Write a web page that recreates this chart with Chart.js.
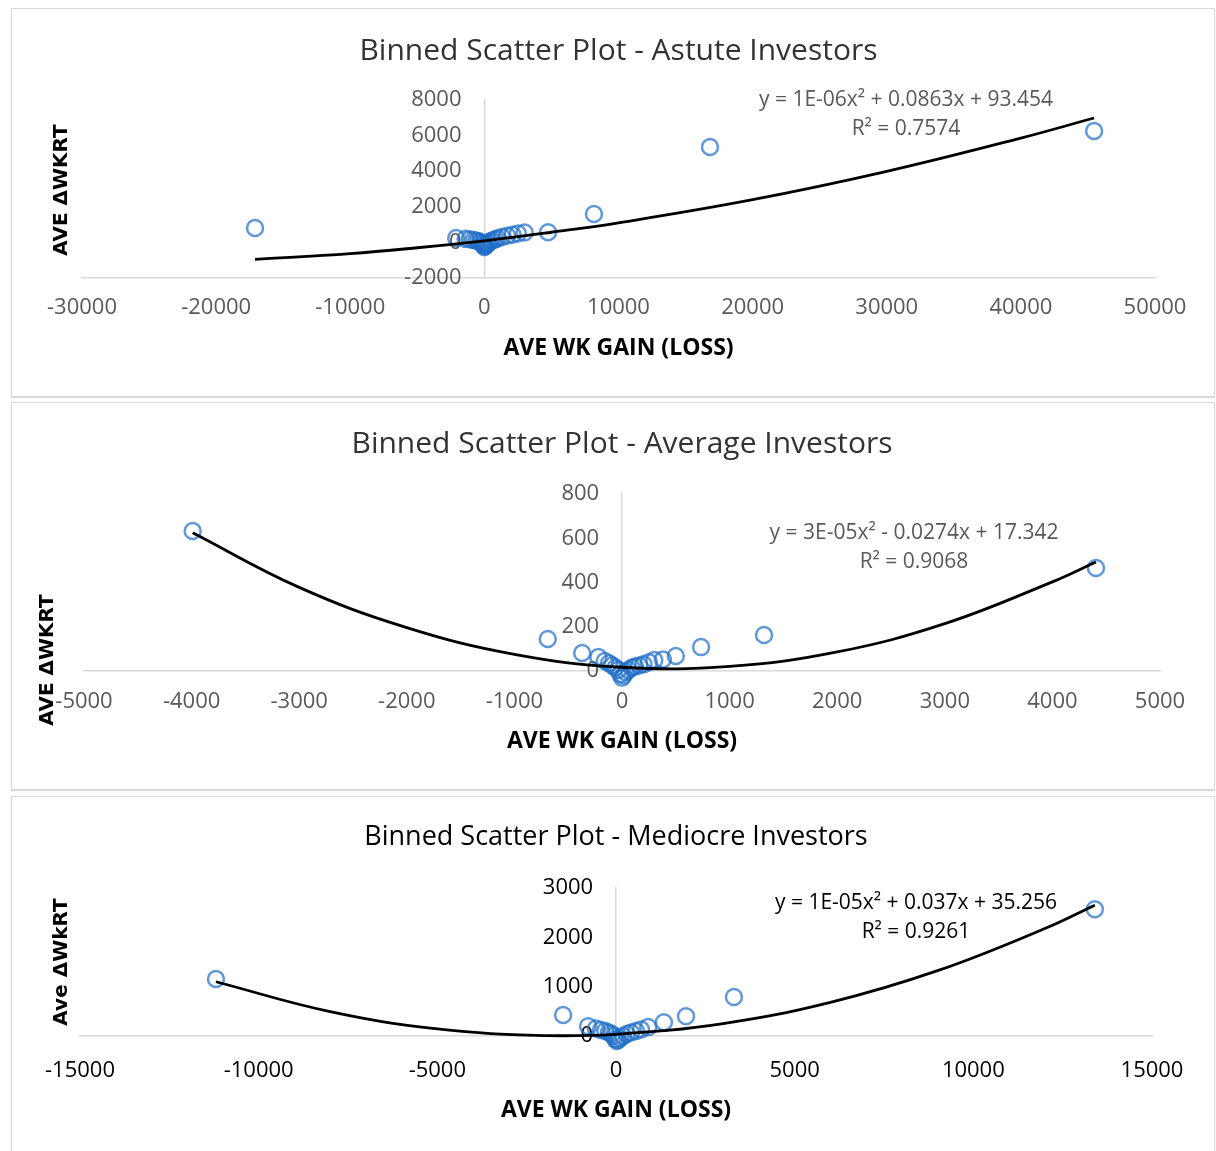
<!DOCTYPE html>
<html lang="en">
<head>
<meta charset="utf-8">
<title>Binned Scatter Plots</title>
<script src="https://cdn.jsdelivr.net/npm/chart.js"></script>
<style>
  body { margin: 0; background: #fff; }
  .box {
    position: absolute; left: 11px; width: 1204px; box-sizing: border-box;
    border: 1px solid #d9d9d9; box-shadow: 0 1px 1px rgba(0,0,0,0.15); background: #fff;
  }
  .box canvas { display: block; }
</style>
</head>
<body>
<div class="box" style="top:8px;height:389px"><canvas id="astute" width="1202" height="387"></canvas></div>
<div class="box" style="top:402px;height:388px"><canvas id="average" width="1202" height="386"></canvas></div>
<div class="box" style="top:796px;height:365px"><canvas id="mediocre" width="1202" height="363"></canvas></div>

<script>
// ---- Astute investors ----
const astuteX = [-17100, -2100, -1400, -1100, -800, -600, -450, -300, -200, -120, -50, 0, 60, 130, 220, 330, 450, 600, 800, 1000, 1300, 1700, 2100, 2500, 3000, 4750, 8170, 16820, 45460];
const astuteY = [810, 250, 200, 170, 140, 100, 60, 20, -30, -100, -180, -260, -220, -150, -80, 0, 60, 110, 170, 230, 300, 370, 430, 500, 560, 570, 1600, 5360, 6260];
const astuteFitX = [-17100, -10000, -5000, 0, 5000, 10000, 20000, 30000, 40000, 45460];
const astuteFitY = [-950, -630, -300, 90, 570, 1100, 2400, 3990, 5860, 6990];
const astuteXTicks = [-30000, 50000, 10000];
const astuteYTicks = [-2000, 8000, 2000];

// ---- Average investors ----
const averageX = [-3990, -690, -370, -220, -160, -120, -90, -60, -35, -15, 0, 15, 35, 60, 90, 120, 160, 200, 250, 300, 380, 500, 735, 1320, 4405];
const averageY = [633, 145, 81, 63, 45, 35, 25, 15, 5, -15, -30, -20, -5, 5, 15, 20, 25, 30, 40, 50, 52, 68, 108, 163, 466];
const averageFitX = [-3990, -3000, -2000, -1000, 0, 1000, 2000, 3000, 4000, 4405];
const averageFitY = [625, 378, 196, 75, 17, 21, 86, 214, 403, 493];
const averageXTicks = [-5000, 5000, 1000];
const averageYTicks = [0, 800, 200];

// ---- Mediocre investors ----
const mediocreX = [-11195, -1480, -780, -560, -420, -300, -200, -120, -60, -20, 20, 60, 120, 200, 300, 420, 560, 700, 900, 1340, 1960, 3300, 13400];
const mediocreY = [1155, 425, 200, 150, 120, 100, 70, 40, 0, -60, -100, -80, -40, 0, 40, 70, 100, 130, 180, 280, 400, 790, 2570];
const mediocreFitX = [-11195, -8000, -5000, -2000, 0, 3000, 6000, 9000, 12000, 13400];
const mediocreFitY = [1100, 494, 145, 8, 35, 252, 682, 1324, 2178, 2652];
const mediocreXTicks = [-15000, 15000, 5000];
const mediocreYTicks = [0, 3000, 1000];

const sideText = {
  id: 'sideText',
  afterDraw(chart, args, o) {
    const ctx = chart.ctx;
    ctx.save();
    ctx.textAlign = 'center';
    ctx.textBaseline = 'middle';
    // rotated y axis title
    ctx.font = 'bold 20px "DejaVu Sans"';
    ctx.fillStyle = '#000';
    ctx.translate(o.yTitle.x, o.yTitle.y);
    ctx.rotate(-Math.PI / 2);
    ctx.fillText(o.yTitle.text, 0, 0);
    ctx.restore();
    // trendline equation
    ctx.save();
    ctx.textAlign = 'center';
    ctx.textBaseline = 'middle';
    ctx.font = '21px "Open Sans"';
    ctx.fillStyle = o.color;
    o.eq.lines.forEach((t, i) => ctx.fillText(t, o.eq.x, o.eq.y + i * 29));
    ctx.restore();
  }
};

function build(id, s) {
  const pts = s.x.map((v, i) => ({x: v, y: s.y[i]}));
  const fit = s.fitX.map((v, i) => ({x: v, y: s.fitY[i]}));
  const tickFont = {family: 'Open Sans', size: 22};
  return new Chart(document.getElementById(id), {
    type: 'scatter',
    data: {
      datasets: [
        {data: fit, showLine: true, borderColor: '#000', borderWidth: 2.8, pointRadius: 0,
         tension: 0.4, order: 0, clip: false},
        {data: pts, pointRadius: 8, pointBorderWidth: 2.5, borderColor: 'rgba(30,110,200,0.7)',
         backgroundColor: 'rgba(0,0,0,0)', order: 1, clip: false}
      ]
    },
    plugins: [sideText],
    options: {
      responsive: false,
      animation: false,
      layout: {padding: {left: s.left, right: s.right, top: 0, bottom: 0}},
      plugins: {
        legend: {display: false},
        tooltip: {enabled: false},
        title: {
          display: true, text: s.title, color: s.titleColor,
          font: {family: 'Open Sans', size: s.titleSize, weight: 'normal'},
          padding: {top: s.titlePad[0], bottom: s.titlePad[1]}
        },
        sideText: {yTitle: s.yTitle, eq: s.eq, color: s.tickColor}
      },
      scales: {
        x: {
          type: 'linear', position: 'bottom',
          min: s.xTicks[0], max: s.xTicks[1],
          grid: {display: false, drawTicks: false},
          border: {display: true, color: '#d9d9d9', width: 1.5},
          ticks: {stepSize: s.xTicks[2], color: s.tickColor, font: tickFont, padding: s.xTickPad,
                  maxRotation: 0, callback: v => String(v)},
          title: {display: true, text: 'AVE WK GAIN (LOSS)', color: '#000',
                  font: {family: 'Open Sans', size: 23, weight: 'bold'}, padding: {top: 0, bottom: s.xTitlePad}},
          afterFit: sc => { sc.height = s.bottom; }
        },
        y: {
          type: 'linear', position: {x: 0},
          min: s.yTicks[0], max: s.yTicks[1],
          grid: {display: false, drawTicks: false},
          border: {display: true, color: '#d9d9d9', width: 1.5},
          // labels sit right against an inner axis, so keep a gap after the number
          ticks: {stepSize: s.yTicks[2], color: s.tickColor, font: tickFont,
                  callback: v => String(v) + '    '}
        }
      }
    }
  });
}

build('astute', {
  x: astuteX, y: astuteY, fitX: astuteFitX, fitY: astuteFitY,
  xTicks: astuteXTicks, yTicks: astuteYTicks,
  title: 'Binned Scatter Plot - Astute Investors', titleColor: '#333', titleSize: 30, tickColor: '#595959',
  left: 70, right: 59, bottom: 118, titlePad: [24.5, 30.5], xTickPad: 16.8, xTitlePad: 34.2,
  yTitle: {text: 'AVE ΔWKRT', x: 50, y: 181},
  eq: {lines: ['y = 1E-06x² + 0.0863x + 93.454', 'R² = 0.7574'], x: 894, y: 91}
});

build('average', {
  x: averageX, y: averageY, fitX: averageFitX, fitY: averageFitY,
  xTicks: averageXTicks, yTicks: averageYTicks,
  title: 'Binned Scatter Plot - Average Investors', titleColor: '#333', titleSize: 30, tickColor: '#595959',
  left: 72, right: 54, bottom: 118, titlePad: [23.5, 31.5], xTickPad: 17.8, xTitlePad: 34.2,
  yTitle: {text: 'AVE ΔWKRT', x: 36, y: 257},
  eq: {lines: ['y = 3E-05x² - 0.0274x + 17.342', 'R² = 0.9068'], x: 902, y: 130}
});

build('mediocre', {
  x: mediocreX, y: mediocreY, fitX: mediocreFitX, fitY: mediocreFitY,
  xTicks: mediocreXTicks, yTicks: mediocreYTicks,
  title: 'Binned Scatter Plot - Mediocre Investors', titleColor: '#000', titleSize: 27, tickColor: '#000',
  left: 68, right: 62, bottom: 124, titlePad: [24.3, 34.3], xTickPad: 21.8, xTitlePad: 36.2,
  yTitle: {text: 'Ave ΔWkRT', x: 50, y: 165},
  eq: {lines: ['y = 1E-05x² + 0.037x + 35.256', 'R² = 0.9261'], x: 904, y: 106}
});
</script>
</body>
</html>
